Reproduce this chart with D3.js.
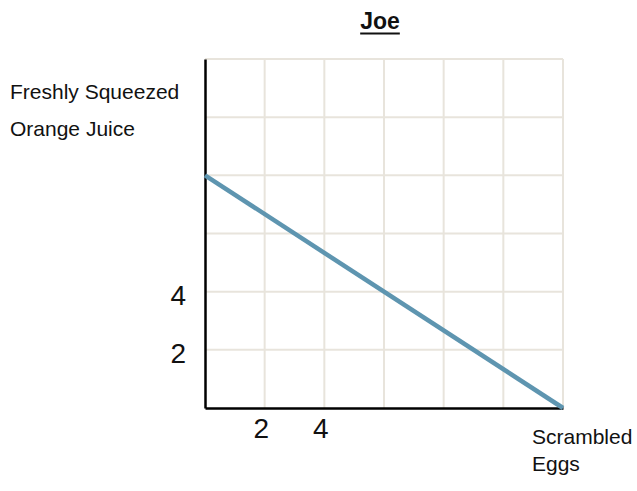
<!DOCTYPE html>
<html>
<head>
<meta charset="utf-8">
<script src="https://cdn.jsdelivr.net/npm/d3@7"></script>
<style>
  html, body { margin: 0; padding: 0; background: #fff; }
  svg { display: block; font-family: "Liberation Sans", Arial, sans-serif; }
</style>
</head>
<body>
<div id="chart"></div>
<script>
'use strict';

// ─── Data ──────────────────────────────────────────────────────────────────
const title      = 'Joe';
const xLabel     = ['Scrambled', 'Eggs'];
const yLabel     = ['Freshly Squeezed', 'Orange Juice'];
const xDomain    = [0, 12];
const yDomain    = [0, 12];
const gridValues = [2, 4, 6, 8, 10, 12];
const xTickVals  = [2, 4];
const yTickVals  = [2, 4];
const lineX      = [0, 12];   // scrambled eggs
const lineY      = [8, 0];    // orange juice

// ─── Render ────────────────────────────────────────────────────────────────
const W = 637, H = 491;

const svg = d3.select('#chart').append('svg')
    .attr('width', W)
    .attr('height', H);

const x = d3.scaleLinear().domain(xDomain).range([205, 563]);
const y = d3.scaleLinear().domain(yDomain).range([408, 59]);

// grid
const grid = svg.append('g').attr('stroke', '#e8e4dc').attr('stroke-width', 2);
grid.selectAll('.vgrid')
    .data(gridValues)
    .enter().append('line')
    .attr('x1', d => x(d)).attr('x2', d => x(d))
    .attr('y1', y(yDomain[0])).attr('y2', y(yDomain[1]));
grid.selectAll('.hgrid')
    .data(gridValues)
    .enter().append('line')
    .attr('x1', x(xDomain[0])).attr('x2', x(xDomain[1]))
    .attr('y1', d => y(d)).attr('y2', d => y(d));

// axes
const xAxis = svg.append('g')
    .attr('transform', 'translate(0,' + y(0) + ')')
    .call(d3.axisBottom(x).tickValues(xTickVals).tickSize(0).tickPadding(10));
const yAxis = svg.append('g')
    .attr('transform', 'translate(' + x(0) + ',0)')
    .call(d3.axisLeft(y).tickValues(yTickVals).tickSize(0).tickPadding(19));

[xAxis, yAxis].forEach(function (g) {
    g.select('.domain').attr('stroke', '#000').attr('stroke-width', 2.5);
    g.selectAll('text')
        .attr('fill', '#111')
        .style('font-size', '28px')
        .style('font-family', '"Liberation Sans", Arial, sans-serif');
});
xAxis.selectAll('text').attr('dx', -4);
yAxis.selectAll('text').attr('dy', '0.45em');

// line
const points = lineX.map((v, i) => [v, lineY[i]]);
svg.append('path')
    .datum(points)
    .attr('fill', 'none')
    .attr('stroke', '#5e95b0')
    .attr('stroke-width', 4.5)
    .attr('d', d3.line().x(d => x(d[0])).y(d => y(d[1])));

// title
const t = svg.append('text')
    .attr('x', 380).attr('y', 29)
    .attr('text-anchor', 'middle')
    .style('font-size', '23px')
    .style('font-weight', 'bold')
    .attr('fill', '#111')
    .text(title);
const tb = t.node().getBBox();
svg.append('line')
    .attr('x1', tb.x).attr('x2', tb.x + tb.width)
    .attr('y1', 33.5).attr('y2', 33.5)
    .attr('stroke', '#111').attr('stroke-width', 2);

// axis titles
svg.append('g').selectAll('text')
    .data(yLabel)
    .enter().append('text')
    .attr('x', 10)
    .attr('y', (d, i) => 99 + i * 37)
    .style('font-size', '21px')
    .attr('fill', '#111')
    .text(d => d);

svg.append('g').selectAll('text')
    .data(xLabel)
    .enter().append('text')
    .attr('x', 532)
    .attr('y', (d, i) => 444 + i * 27)
    .style('font-size', '21px')
    .attr('fill', '#111')
    .text(d => d);
</script>
</body>
</html>
